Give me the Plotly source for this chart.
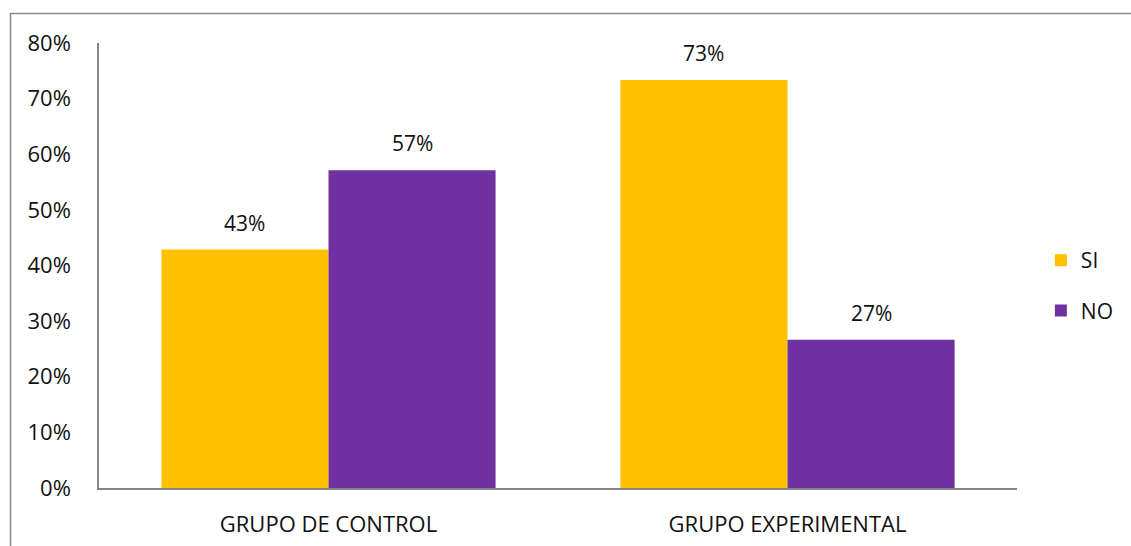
import plotly.graph_objects as go

# Chart data
categories = ["GRUPO DE CONTROL", "GRUPO EXPERIMENTAL"]
si_values = [0.4286, 0.7333]
no_values = [0.5714, 0.2667]
series_names = ["SI", "NO"]
y_tick_values = [0, 0.1, 0.2, 0.3, 0.4, 0.5, 0.6, 0.7, 0.8]
y_tick_labels = ["0%", "10%", "20%", "30%", "40%", "50%", "60%", "70%", "80%"]

FONT = "Open Sans, Liberation Sans, sans-serif"
TEXT_COLOR = "#111111"
COLORS = ["#FFC000", "#7030A0"]

W, H = 1131, 546
L, R, T, B = 99, 114, 43, 58
plot_w = W - L - R
plot_h = H - T - B

fig = go.Figure()
for name, vals, color in zip(series_names, [si_values, no_values], COLORS):
    fig.add_trace(go.Bar(
        name=name,
        x=categories,
        y=vals,
        marker=dict(color=color, line=dict(width=0)),
        legendgroup=name,
    ))

# value labels above each bar
offsets = [-0.5, 0.5]
for vals, off in zip([si_values, no_values], offsets):
    for i, v in enumerate(vals):
        fig.add_annotation(
            x=i + off * 0.364, y=v, xref="x", yref="y",
            text=f"{round(v * 100)}%", showarrow=False,
            yshift=27, font=dict(family=FONT, size=21, color=TEXT_COLOR),
        )

# outer chart frame
px_to_x = lambda px: (px - L) / plot_w
px_to_y = lambda py: (H - B - py) / plot_h
fig.add_shape(
    type="rect", xref="paper", yref="paper",
    x0=px_to_x(10.5), x1=px_to_x(W + 20),
    y0=px_to_y(H + 20), y1=px_to_y(13.5),
    line=dict(color="#8a8a8a", width=1.5), fillcolor="rgba(0,0,0,0)",
    layer="below",
)

fig.update_layout(
    width=W, height=H,
    margin=dict(l=L, r=R, t=T, b=B, autoexpand=False),
    paper_bgcolor="white", plot_bgcolor="white",
    barmode="group", bargap=0.272, bargroupgap=0,
    font=dict(family=FONT, size=21, color=TEXT_COLOR),
    showlegend=True,
    legend=dict(
        x=1.026, y=0.455, xanchor="left", yanchor="middle",
        traceorder="grouped", tracegroupgap=20,
        font=dict(family=FONT, size=21, color=TEXT_COLOR),
        bgcolor="rgba(0,0,0,0)",
    ),
    xaxis=dict(
        showline=True, linecolor="#868686", linewidth=1.5,
        showgrid=False, ticks="outside", ticklen=16,
        tickcolor="rgba(0,0,0,0)", automargin=False,
        tickfont=dict(family=FONT, size=22, color=TEXT_COLOR),
        range=[-0.5, 1.5],
    ),
    yaxis=dict(
        range=[0, 0.8], tickvals=y_tick_values, ticktext=y_tick_labels,
        showline=True, linecolor="#868686", linewidth=1.5,
        showgrid=False, zeroline=False, ticks="outside", ticklen=22,
        tickcolor="rgba(0,0,0,0)", automargin=False,
        tickfont=dict(family=FONT, size=22, color=TEXT_COLOR),
    ),
)

fig.write_html("out.html")
